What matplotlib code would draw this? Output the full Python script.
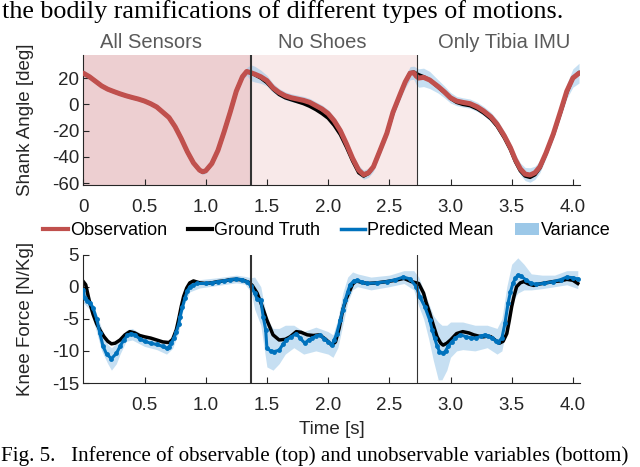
import matplotlib
matplotlib.use("Agg")
import matplotlib.pyplot as plt
from matplotlib.lines import Line2D
from matplotlib.patches import Patch

plt.rcParams['font.family'] = ['Liberation Sans', 'DejaVu Sans']
plt.rcParams['axes.unicode_minus'] = False

# ---------------- data ----------------
region_bounds = [0.0, 1.368, 2.729]
region_names = ["All Sensors", "No Shoes", "Only Tibia IMU"]

t_angle = [0, 0.05, 0.1, 0.15, 0.2, 0.25, 0.3, 0.35, 0.4, 0.45, 0.5, 0.55, 0.6, 0.65, 0.7,
           0.75, 0.8, 0.85, 0.9, 0.95, 0.975, 1.0, 1.05, 1.1, 1.15, 1.2, 1.25, 1.3, 1.335,
           1.37, 1.4, 1.45, 1.5, 1.55, 1.6, 1.65, 1.7, 1.75, 1.8, 1.85, 1.9, 1.95, 2.0,
           2.05, 2.1, 2.15, 2.2, 2.25, 2.29, 2.33, 2.37, 2.42, 2.48, 2.53, 2.59, 2.63,
           2.67, 2.7, 2.72, 2.74, 2.78, 2.83, 2.9, 2.95, 3.0, 3.05, 3.1, 3.16, 3.22, 3.27,
           3.33, 3.38, 3.44, 3.49, 3.53, 3.57, 3.61, 3.65, 3.69, 3.73, 3.78, 3.84, 3.9,
           3.95, 4.0, 4.05]
angle_obs = [23.7, 21, 17.5, 14, 11.5, 9.7, 8, 6.5, 5.2, 4, 2.5, 0.5, -2, -6, -10,
             -17, -26, -36, -44.5, -50, -51.2, -50.5, -45, -35, -21, -6, 10, 21, 25,
             24, 23, 21, 18, 12.5, 9, 6.5, 5, 4, 3, 1.5, -1, -3.5, -7,
             -12.5, -20, -30, -41, -50, -53.5, -52, -47.5, -36, -22, -6, 8, 17,
             23.7, 24, 21.5, 20, 20.5, 18.5, 13.5, 9.5, 5, 2.5, 1.5, 0.5, -2, -5,
             -9.5, -15, -24, -33, -42, -49, -53, -53.7, -52, -47.5, -37, -22.5, -5,
             10, 20, 23.7]
angle_true = [23.5, 21, 17.5, 14, 11.5, 9.7, 8, 6.5, 5.2, 4, 2.5, 0.5, -2, -6, -10,
              -17, -26, -36, -44.5, -50.2, -51.5, -50.7, -45, -35, -21, -6, 10, 21, 25,
              24, 22.5, 20, 16.5, 11.5, 7.5, 5, 3.5, 2, 0.5, -1.5, -4, -7, -10.5,
              -16, -23, -32.5, -43, -52, -54.5, -52.5, -47.5, -36, -22, -6.5, 7.5, 17,
              24, 24.5, 23.5, 22.5, 21, 18.5, 13, 9, 4.5, 1.5, 0, -1, -3.5, -6.5,
              -11, -16.5, -25.5, -34.5, -43.5, -50.5, -54.5, -55.5, -53.5, -48.5, -37.5, -23, -6,
              9, 20, 24]
# half-width of the variance band, on the t_angle grid
angle_halfwidth = [2.5, 2, 1.5, 1.5, 1.5, 1.5, 1.5, 1.5, 1.5, 1.5, 1.5, 1.5, 1.5, 1.5, 1.5,
                   1.5, 1.5, 1.5, 1.5, 2, 2, 2, 1.5, 1.5, 1.5, 1.5, 2, 2.5, 3,
                   6, 6, 5, 4, 3.5, 3, 3, 3, 3, 3, 3, 3, 3, 3,
                   3, 3, 3, 3, 3.5, 3.5, 3.5, 3.5, 3.5, 3.5, 3.5, 4, 4.5,
                   5, 5, 6.5, 7, 7, 6.5, 5, 4.5, 4, 3.5, 3.5, 3.5, 3.5, 3.5,
                   3.5, 3.5, 3.5, 3.5, 4, 4.5, 5, 5.5, 5, 4.5, 4, 4, 4.5,
                   5.5, 7, 7.5]

t_force_true = [0, 0.02, 0.05, 0.08, 0.11, 0.14, 0.17, 0.2, 0.23, 0.26, 0.3, 0.34, 0.38, 0.42,
                0.46, 0.5, 0.55, 0.6, 0.65, 0.7, 0.73, 0.76, 0.78, 0.8, 0.82, 0.845, 0.87,
                0.9, 0.95, 1.0, 1.05, 1.1, 1.15, 1.2, 1.25, 1.3, 1.35, 1.38, 1.42, 1.46,
                1.5, 1.55, 1.6, 1.65, 1.69, 1.74, 1.78, 1.83, 1.88, 1.93, 1.98, 2.03, 2.06,
                2.09, 2.12, 2.15, 2.18, 2.2, 2.23, 2.27, 2.32, 2.4, 2.48, 2.55, 2.62, 2.68,
                2.74, 2.78, 2.8, 2.83, 2.86, 2.89, 2.92, 2.94, 2.97, 3.0, 3.05, 3.1, 3.15,
                3.19, 3.23, 3.27, 3.3, 3.33, 3.37, 3.4, 3.43, 3.46, 3.48, 3.5, 3.52, 3.54,
                3.57, 3.6, 3.64, 3.68, 3.72, 3.78, 3.84, 3.9, 3.95, 4.0, 4.04]
force_true = [0.8, 0.3, -2.3, -4.3, -5.8, -6.9, -7.8, -8.5, -8.9, -8.8, -8.3, -7.5, -7.0, -7.2,
              -7.6, -7.8, -8.0, -8.3, -8.6, -8.7, -8.2, -6.7, -5.0, -3.1, -1.5, -0.2, 0.6,
              0.9, 0.6, 0.5, 0.6, 0.8, 0.9, 1.1, 1.15, 1.05, 0.7, 0.2, -1.0, -3.0,
              -5.2, -7.5, -8.3, -8.2, -7.8, -7.0, -7.1, -7.5, -7.6, -7.5, -8.2, -9.1, -8.6,
              -6.5, -3.6, -1.8, -0.5, 0.4, 0.9, 0.7, 0.5, 0.6, 0.8, 1.0, 1.3, 0.8,
              0.5, -1.0, -2.4, -4.1, -6.0, -7.8, -8.8, -9.1, -8.8, -8.3, -7.3, -7.0, -7.2,
              -7.5, -7.7, -7.8, -7.7, -7.8, -8.4, -8.8, -8.5, -7.3, -5.3, -3.1, -1.4, 0.0,
              0.6, 0.8, 0.4, 0.2, 0.4, 0.6, 0.8, 0.9, 1.15, 1.0, 0.5]

t_force_pred = [0, 0.01, 0.03, 0.055, 0.08, 0.11, 0.135, 0.16, 0.19, 0.23, 0.27, 0.3, 0.33,
                0.36, 0.39, 0.42, 0.46, 0.5, 0.55, 0.6, 0.65, 0.68, 0.7, 0.72, 0.74, 0.76,
                0.78, 0.79, 0.81, 0.83, 0.85, 0.87, 0.9, 0.93, 1.0, 1.05, 1.1, 1.15, 1.2,
                1.25, 1.3, 1.34, 1.37, 1.4, 1.42, 1.45, 1.47, 1.49, 1.5, 1.53, 1.56, 1.6,
                1.63, 1.66, 1.7, 1.74, 1.77, 1.81, 1.84, 1.87, 1.9, 1.93, 1.97, 2.0, 2.03,
                2.05, 2.07, 2.1, 2.12, 2.14, 2.16, 2.18, 2.21, 2.24, 2.28, 2.32, 2.4, 2.48,
                2.55, 2.615, 2.67, 2.72, 2.75, 2.79, 2.83, 2.85, 2.87, 2.89, 2.91, 2.94,
                2.96, 2.98, 3.01, 3.04, 3.08, 3.13, 3.17, 3.21, 3.25, 3.28, 3.31, 3.34,
                3.37, 3.39, 3.42, 3.445, 3.47, 3.49, 3.51, 3.53, 3.55, 3.58, 3.62, 3.66,
                3.7, 3.76, 3.84, 3.9, 3.95, 4.0, 4.04]
force_pred = [-0.5, -1.7, -2.2, -2.5, -3.3, -5.1, -7.2, -9.2, -10.5, -11.2, -10.4, -9.3, -8.3,
              -7.6, -7.3, -7.5, -8.1, -8.5, -8.8, -9.0, -9.3, -9.6, -9.4, -8.8, -8.0, -7.0,
              -5.8, -4.7, -3.2, -1.8, -0.7, 0.0, 0.3, 0.5, 0.5, 0.6, 0.8, 0.9, 1.1,
              1.2, 1.1, 0.7, 0.1, -1.0, -1.9, -2.1, -4.7, -6.7, -9.6, -10.0, -10.1, -9.9,
              -9.0, -8.3, -7.8, -7.3, -8.0, -8.8, -8.3, -8.0, -7.7, -7.5, -8.1, -8.6, -9.1,
              -8.3, -7.3, -5.2, -3.6, -2.1, -0.8, 0.3, 0.9, 1.0, 0.7, 0.5, 0.6, 0.8,
              1.1, 1.5, 1.2, 0.0, -1.6, -3.1, -5.2, -6.7, -8.0, -9.2, -10.1, -10.4,
              -10.0, -9.3, -8.6, -8.0, -7.5, -7.8, -8.0, -8.0, -7.7, -7.5, -7.7, -8.0,
              -8.4, -8.6, -8.0, -5.7, -2.6, -0.8, 0.5, 1.3, 1.8, 1.6, 1.0, 0.5,
              0.4, 0.5, 0.8, 1.1, 1.5, 1.4, 1.2]

t_force_band = [0, 0.05, 0.1, 0.15, 0.2, 0.23, 0.27, 0.3, 0.35, 0.4, 0.5, 0.6, 0.68, 0.73,
                0.78, 0.82, 0.87, 0.95, 1.1, 1.25, 1.32, 1.37, 1.4, 1.45, 1.5, 1.55, 1.6,
                1.65, 1.72, 1.8, 1.9, 2.0, 2.04, 2.08, 2.12, 2.16, 2.2, 2.24, 2.35, 2.5,
                2.62, 2.7, 2.74, 2.78, 2.82, 2.86, 2.9, 2.93, 2.97, 3.0, 3.05, 3.1, 3.2,
                3.3, 3.38, 3.42, 3.46, 3.5, 3.55, 3.6, 3.66, 3.75, 3.85, 3.95, 4.04]
force_lo = [-2.5, -3.5, -6.5, -10, -12, -13, -12, -10.5, -8.5, -8.3, -9.3, -9.8, -10.5, -9.6,
            -7, -3, -0.8, -0.2, 0.2, 0.6, 0.4, -0.8, -3.5, -6, -12.5, -13, -12,
            -10.5, -9.5, -10.5, -10, -10.5, -11, -9.5, -6, -2.5, -0.5, 0, -0.5, 0,
            0.5, -0.5, -3, -5, -8, -11.5, -14.5, -14.5, -13, -11, -10, -9.8, -10,
            -9.5, -10.5, -10, -6, -2.5, -1, -0.5, -0.5, -0.3, 0, 0.3, -0.3]
force_hi = [1.0, -1.5, -3.8, -6.5, -9, -9.5, -8.8, -8, -6.8, -6.5, -7.7, -8.2, -8.7, -7.8,
            -4.5, -0.5, 0.8, 1.1, 1.4, 1.8, 1.6, 1.4, 1.5, 0, -5, -6.5, -6.5,
            -6, -6, -7, -6.3, -7, -7.5, -5, -1, 1.5, 2.3, 2, 1.5, 1.8,
            2.5, 2.5, 1.5, -0.5, -2.5, -4.5, -5.5, -6, -6, -5.5, -5.5, -5.5, -6,
            -6, -6.5, -5, 0, 3.5, 4.5, 3.5, 2, 1.8, 1.8, 2.5, 2.5]

top_xticks = [0, 0.5, 1.0, 1.5, 2.0, 2.5, 3.0, 3.5, 4.0]
top_xticklabels = ["0", "0.5", "1.0", "1.5", "2.0", "2.5", "3.0", "3.5", "4.0"]
bot_xticks = [0.5, 1.0, 1.5, 2.0, 2.5, 3.0, 3.5, 4.0]
bot_xticklabels = ["0.5", "1.0", "1.5", "2.0", "2.5", "3.0", "3.5", "4.0"]
top_yticks = [-60, -40, -20, 0, 20]
bot_yticks = [-15, -10, -5, 0, 5]

# ---------------- style ----------------
RED = '#C0504D'
BLUE = '#0072BD'
BAND = '#8EC1E6'
SHADE1 = '#EDCFD1'
SHADE2 = '#F8E9E9'
FS = 13.5

W, H = 640, 467
fig = plt.figure(figsize=(W / 100, H / 100), dpi=100)

def fx(px):
    return px / W

def fy(py):
    return 1 - py / H

ax1 = fig.add_axes([fx(83.3), fy(185), fx(580) - fx(83.3), fy(55) - fy(185)])
ax2 = fig.add_axes([fx(83.3), fy(383), fx(580) - fx(83.3), fy(254.6) - fy(383)])

for ax in (ax1, ax2):
    for s in ('top', 'right'):
        ax.spines[s].set_visible(False)
    for s in ('left', 'bottom'):
        ax.spines[s].set_color('#262626')
        ax.spines[s].set_linewidth(0.8)
    ax.tick_params(direction='in', length=4, width=0.8, colors='#262626',
                   labelsize=FS, labelcolor='#262626')
    ax.tick_params(axis='y', pad=3)
    ax.tick_params(axis='x', pad=10)
    ax.set_xlim(0, 4.058)

# top panel
angle_lo = [m - h for m, h in zip(angle_obs, angle_halfwidth)]
angle_hi = [m + h for m, h in zip(angle_obs, angle_halfwidth)]
ax1.axvspan(region_bounds[0], region_bounds[1], color=SHADE1, lw=0, zorder=0)
ax1.axvspan(region_bounds[1], region_bounds[2], color=SHADE2, lw=0, zorder=0)
ax1.fill_between(t_angle, angle_lo, angle_hi, color=BAND, alpha=0.5, lw=0, zorder=1)
ax1.plot(t_angle, angle_true, color='black', lw=2.5, zorder=2)
ax1.plot(t_angle, angle_obs, color=RED, lw=3.6, zorder=3, solid_capstyle='round')
ax1.axvline(region_bounds[1], color='#333333', lw=1.5, zorder=4)
ax1.axvline(region_bounds[2], color='#333333', lw=0.8, zorder=4)
ax1.set_ylim(-61.3, 37.5)
ax1.set_yticks(top_yticks)
ax1.set_yticklabels([str(v) for v in top_yticks])
ax1.set_xticks(top_xticks)
ax1.set_xticklabels(top_xticklabels)
ax1.set_ylabel("Shank Angle [deg]", fontsize=FS, color='#262626')
ax1.yaxis.set_label_coords((34 - 83.3) / (580 - 83.3), 0.5)

# bottom panel
ax2.fill_between(t_force_band, force_lo, force_hi, color=BAND, alpha=0.5, lw=0, zorder=1)
ax2.plot(t_force_true, force_true, color='black', lw=2.5, zorder=2)
ax2.plot(t_force_pred, force_pred, color=BLUE, lw=2.2, marker='o', ms=3.5,
         markeredgewidth=0, zorder=3)
ax2.axvline(region_bounds[1], color='#333333', lw=1.5, zorder=4)
ax2.axvline(region_bounds[2], color='#333333', lw=0.8, zorder=4)
ax2.set_ylim(-15, 5)
ax2.set_yticks(bot_yticks)
ax2.set_yticklabels([str(v) for v in bot_yticks])
ax2.set_xticks(bot_xticks)
ax2.set_xticklabels(bot_xticklabels)
ax2.set_ylabel("Knee Force [N/Kg]", fontsize=FS, color='#262626')
ax2.yaxis.set_label_coords((34 - 83.3) / (580 - 83.3), 0.5)
ax2.set_xlabel("Time [s]", fontsize=FS, color='#262626', labelpad=5)

# region titles
for name, px in zip(region_names, [151, 322, 504]):
    fig.text(fx(px), fy(42), name, ha='center', va='center', fontsize=14.5, color='#5A5A5A')

# legend
handles = [Line2D([], [], color=RED, lw=3),
           Line2D([], [], color='black', lw=3),
           Line2D([], [], color=BLUE, lw=2.5),
           Patch(facecolor='#9CC8E8', edgecolor='none')]
labels = ["Observation", "Ground Truth", "Predicted Mean", "Variance"]
fig.legend(handles, labels, loc='center', bbox_to_anchor=(fx(327), fy(231)), ncol=4,
           frameon=False, fontsize=13, handlelength=1.35, handletextpad=0.12,
           columnspacing=1.15, borderaxespad=0, borderpad=0)

# surrounding page text
fig.text(fx(2), fy(18), "the bodily ramifications of different types of motions.",
         ha='left', va='baseline', fontsize=18.8, family=['Liberation Serif'], color='black')
fig.text(fx(1), fy(461), "Fig. 5.   Inference of observable (top) and unobservable variables (bottom)",
         ha='left', va='baseline', fontsize=15.1, family=['Liberation Serif'], color='black')

fig.savefig("out.png", dpi=100)
